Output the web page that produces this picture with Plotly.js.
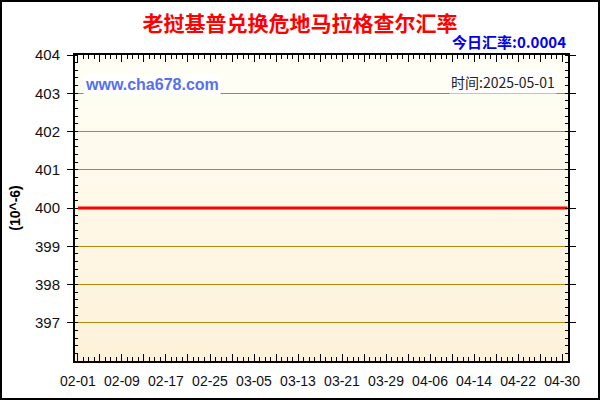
<!DOCTYPE html>
<html>
<head>
<meta charset="utf-8">
<script src="https://cdn.plot.ly/plotly-3.0.1.min.js"></script>
<style>
  html, body { margin: 0; padding: 0; background: #fff; }
  #wrap { position: relative; width: 600px; height: 400px; }
  #chart { width: 600px; height: 400px; }
  #frame { position: absolute; left: 0; top: 0; width: 596px; height: 396px;
           border: 2px solid #000; pointer-events: none; }
</style>
</head>
<body>
<div id="wrap">
  <div id="chart"></div>
  <div id="frame"></div>
</div>
<script>
(function () {
  "use strict";

  // LAK -> GTQ daily rate, in units of 10^-6
  const dates = [
    "2025-02-01","2025-02-02","2025-02-03","2025-02-04","2025-02-05","2025-02-06","2025-02-07",
    "2025-02-08","2025-02-09","2025-02-10","2025-02-11","2025-02-12","2025-02-13","2025-02-14",
    "2025-02-15","2025-02-16","2025-02-17","2025-02-18","2025-02-19","2025-02-20","2025-02-21",
    "2025-02-22","2025-02-23","2025-02-24","2025-02-25","2025-02-26","2025-02-27","2025-02-28",
    "2025-03-01","2025-03-02","2025-03-03","2025-03-04","2025-03-05","2025-03-06","2025-03-07",
    "2025-03-08","2025-03-09","2025-03-10","2025-03-11","2025-03-12","2025-03-13","2025-03-14",
    "2025-03-15","2025-03-16","2025-03-17","2025-03-18","2025-03-19","2025-03-20","2025-03-21",
    "2025-03-22","2025-03-23","2025-03-24","2025-03-25","2025-03-26","2025-03-27","2025-03-28",
    "2025-03-29","2025-03-30","2025-03-31","2025-04-01","2025-04-02","2025-04-03","2025-04-04",
    "2025-04-05","2025-04-06","2025-04-07","2025-04-08","2025-04-09","2025-04-10","2025-04-11",
    "2025-04-12","2025-04-13","2025-04-14","2025-04-15","2025-04-16","2025-04-17","2025-04-18",
    "2025-04-19","2025-04-20","2025-04-21","2025-04-22","2025-04-23","2025-04-24","2025-04-25",
    "2025-04-26","2025-04-27","2025-04-28","2025-04-29","2025-04-30","2025-05-01"
  ];
  const rates = [
    400,400,400,400,400,400,400, 400,400,400,400,400,400,400,
    400,400,400,400,400,400,400, 400,400,400,400,400,400,400,
    400,400,400,400,400,400,400, 400,400,400,400,400,400,400,
    400,400,400,400,400,400,400, 400,400,400,400,400,400,400,
    400,400,400,400,400,400,400, 400,400,400,400,400,400,400,
    400,400,400,400,400,400,400, 400,400,400,400,400,400,400,
    400,400,400,400,400,400
  ];

  // major x ticks every 4 days, labelled every 8
  const xTickVals = [
    "2025-02-01","2025-02-05","2025-02-09","2025-02-13","2025-02-17","2025-02-21",
    "2025-02-25","2025-03-01","2025-03-05","2025-03-09","2025-03-13","2025-03-17",
    "2025-03-21","2025-03-25","2025-03-29","2025-04-02","2025-04-06","2025-04-10",
    "2025-04-14","2025-04-18","2025-04-22","2025-04-26","2025-04-30"
  ];
  const xTickText = [
    "02-01","","02-09","","02-17","","02-25","","03-05","","03-13","",
    "03-21","","03-29","","04-06","","04-14","","04-22","","04-30"
  ];
  const yTickVals = [397, 398, 399, 400, 401, 402, 403, 404];

  const title = "老挝基普兑换危地马拉格查尔汇率";
  const todayRate = "今日汇率:0.0004";
  const stamp = "时间:2025-05-01";

  const GRID = "#b8860b";
  const AX = "#000";

  const gradient = "data:image/svg+xml;charset=utf-8," + encodeURIComponent(
    '<svg xmlns="http://www.w3.org/2000/svg" width="10" height="100" preserveAspectRatio="none">' +
    '<defs><linearGradient id="g" x1="0" y1="0" x2="0" y2="1">' +
    '<stop offset="0" stop-color="#fffff6"/><stop offset="1" stop-color="#fdf1d9"/>' +
    '</linearGradient></defs><rect width="10" height="100" fill="url(#g)"/></svg>');

  const line = {
    type: "scatter",
    mode: "lines",
    x: dates,
    y: rates,
    line: { color: "#ff0000", width: 3 },
    hoverinfo: "x+y",
  };

  const layout = {
    width: 600,
    height: 400,
    margin: { l: 75, r: 32, t: 55, b: 39 },
    paper_bgcolor: "#fff",
    plot_bgcolor: "#fffbe8",
    showlegend: false,
    font: { family: "Liberation Sans, Arial, sans-serif", size: 13, color: "#111" },
    title: {
      text: title,
      font: { family: "Noto Sans CJK SC", size: 21, color: "#ff0000", weight: "bold" },
      x: 0.5, xanchor: "center", y: 0.94, yanchor: "middle",
    },
    xaxis: {
      type: "date",
      range: ["2025-01-31 11:00", "2025-05-01 02:00"],
      tickmode: "array",
      tickvals: xTickVals,
      ticktext: xTickText,
      ticks: "inside",
      ticklen: 7,
      tickcolor: AX,
      tickwidth: 1,
      minor: { dtick: 86400000, ticks: "inside", ticklen: 4, tickcolor: AX, showgrid: false },
      showgrid: false,
      zeroline: false,
      showline: true,
      linecolor: AX,
      linewidth: 2,
      mirror: "allticks",
      tickfont: { size: 14, color: "#111" },
      ticklabelstandoff: 6,
      fixedrange: true,
    },
    yaxis: {
      range: [396, 404],
      tickmode: "array",
      tickvals: yTickVals,
      ticks: "outside",
      ticklen: 6,
      tickcolor: AX,
      minor: { dtick: 0.2, ticks: "inside", ticklen: 3, tickcolor: AX, showgrid: false },
      showgrid: true,
      gridcolor: GRID,
      gridwidth: 1,
      zeroline: false,
      showline: true,
      linecolor: AX,
      linewidth: 2,
      mirror: "allticks",
      tickfont: { size: 15, color: "#111" },
      ticklabelstandoff: 4,
      title: {
        text: "(10^-6)",
        font: { size: 14, color: "#000", weight: "bold" },
        standoff: 11,
      },
      fixedrange: true,
    },
    images: [{
      source: gradient,
      xref: "paper", yref: "paper",
      x: 0, y: 1, sizex: 1, sizey: 1,
      xanchor: "left", yanchor: "top",
      sizing: "stretch",
      layer: "below",
    }],
    annotations: [
      {
        text: todayRate, xref: "paper", yref: "paper", x: 1, y: 1,
        xanchor: "right", yanchor: "bottom", yshift: 1, showarrow: false,
        font: { family: "Noto Sans CJK SC", size: 15, color: "#0000ee", weight: "bold" },
      },
      {
        text: "www.cha678.com", xref: "paper", yref: "paper", x: 0.016, y: 0.902,
        xanchor: "left", yanchor: "middle", showarrow: false,
        bgcolor: "#fff",
        font: { size: 16, color: "#5670f2", weight: "bold" },
      },
      {
        text: stamp, xref: "paper", yref: "paper", x: 0.978, y: 0.912,
        xanchor: "right", yanchor: "middle", showarrow: false,
        bgcolor: "#fff",
        font: { family: "Noto Sans CJK SC", size: 14, color: "#222" },
      },
    ],
  };

  Plotly.newPlot("chart", [line], layout, { staticPlot: true, displayModeBar: false });
})();
</script>
</body>
</html>
